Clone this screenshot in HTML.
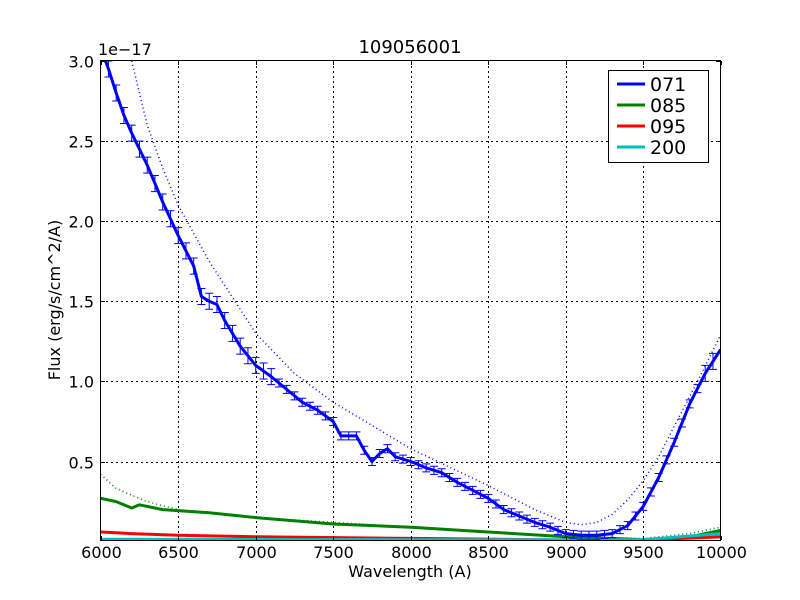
<!DOCTYPE html>
<html><head><meta charset="utf-8"><style>
body{margin:0;background:#fff;}
svg{display:block;font-family:"DejaVu Sans","Liberation Sans",sans-serif;}
</style></head><body>
<svg id="s" width="800" height="600" xmlns="http://www.w3.org/2000/svg">
<defs><clipPath id="cp"><rect x="101" y="61" width="619" height="479"/></clipPath></defs>
<rect width="800" height="600" fill="#fff"/>
<g id="grid" stroke="#000" stroke-width="1" stroke-dasharray="2,3"></g>
<g id="data" fill="none" clip-path="url(#cp)"></g>
<rect x="100.5" y="60.5" width="620" height="480" fill="none" stroke="#000" stroke-width="1"/>
<g id="ticks" stroke="#000"></g>
<g id="labels" font-size="16" fill="#000"></g>
<text x="410" y="53" font-size="18" text-anchor="middle">109056001</text>
<text x="98" y="55" font-size="16">1e−17</text>
<text x="410" y="577" font-size="16" text-anchor="middle">Wavelength (A)</text>
<text x="60" y="300" font-size="16" text-anchor="middle" transform="rotate(-90 60 300)">Flux (erg/s/cm^2/A)</text>
<g>
<rect x="608.5" y="70.5" width="100" height="92" fill="#fff" stroke="#000"/>
<line x1="617" y1="84" x2="645" y2="84" stroke="#0000ff" stroke-width="3"/>
<line x1="617" y1="105" x2="645" y2="105" stroke="#008000" stroke-width="3"/>
<line x1="617" y1="126" x2="645" y2="126" stroke="#ff0000" stroke-width="3"/>
<line x1="617" y1="147" x2="645" y2="147" stroke="#00bfbf" stroke-width="3"/>
<text x="650" y="91" font-size="19">071</text>
<text x="650" y="112" font-size="19">085</text>
<text x="650" y="133" font-size="19">095</text>
<text x="650" y="154" font-size="19">200</text>
</g>
</svg>
<script>
var NS="http://www.w3.org/2000/svg";
function X(w){return 100.7+(w-6000)*0.155;}
function Y(v){return 541.6-v*160.2;}
function el(p,t,a){var e=document.createElementNS(NS,t);for(var k in a)e.setAttribute(k,a[k]);document.getElementById(p).appendChild(e);return e;}
for(var w=6500;w<10000;w+=500){var x=Math.round(X(w))+0.5;el('grid','line',{x1:x,y1:61,x2:x,y2:540});}
[0.5,1,1.5,2,2.5].forEach(function(v){var y=Math.round(Y(v))+0.5;el('grid','line',{x1:101,y1:y,x2:720,y2:y});});
for(var w=6000;w<=10000;w+=500){var x=Math.round(X(w))+0.5;el('ticks','line',{x1:x,y1:540,x2:x,y2:536});el('ticks','line',{x1:x,y1:61,x2:x,y2:65});
 var t=el('labels','text',{x:x,y:558,'text-anchor':'middle'});t.textContent=w;}
[0.5,1,1.5,2,2.5,3].forEach(function(v){var y=Math.round(Y(v))+0.5;el('ticks','line',{x1:101,y1:y,x2:105,y2:y});el('ticks','line',{x1:720,y1:y,x2:716,y2:y});
 var t=el('labels','text',{x:94,y:y+6,'text-anchor':'end'});t.textContent=v.toFixed(1);});
function interp(pts,w){for(var i=0;i<pts.length-1;i++){if(w>=pts[i][0]&&w<=pts[i+1][0]){var f=(w-pts[i][0])/(pts[i+1][0]-pts[i][0]);return pts[i][1]+f*(pts[i+1][1]-pts[i][1]);}}return pts[pts.length-1][1];}
function path(pts,c,wd,dash){var d=pts.map(function(p,i){return (i?'L':'M')+X(p[0]).toFixed(1)+','+Y(p[1]).toFixed(1);}).join('');
 var a={d:d,stroke:c,'stroke-width':wd,'stroke-linejoin':'round'};if(dash)a['stroke-dasharray']=dash;el('data','path',a);}
var blue=[[6000,3.08],[6050,2.95],[6100,2.8],[6150,2.66],[6200,2.55],[6300,2.35],[6400,2.12],[6500,1.91],[6600,1.72],[6650,1.53],[6700,1.5],[6750,1.48],[6800,1.38],[6900,1.22],[7000,1.1],[7100,1.03],[7200,0.95],[7300,0.87],[7400,0.82],[7500,0.75],[7550,0.66],[7650,0.66],[7700,0.57],[7750,0.5],[7800,0.55],[7850,0.58],[7900,0.53],[8000,0.5],[8100,0.46],[8200,0.43],[8300,0.37],[8400,0.32],[8500,0.27],[8600,0.2],[8700,0.16],[8800,0.12],[8900,0.09],[9000,0.05],[9100,0.04],[9200,0.04],[9300,0.05],[9400,0.1],[9500,0.22],[9600,0.4],[9700,0.62],[9800,0.86],[9900,1.05],[10000,1.2]];
var bdot=[[6200,3.0],[6300,2.6],[6400,2.33],[6500,2.1],[6700,1.75],[7000,1.3],[7250,1.05],[7500,0.87],[8000,0.58],[8500,0.35],[8800,0.2],[9000,0.12],[9100,0.105],[9200,0.12],[9300,0.17],[9400,0.26],[9500,0.38],[9600,0.53],[9700,0.72],[9850,1.0],[10000,1.29]];
var green=[[6000,0.27],[6100,0.25],[6200,0.21],[6250,0.23],[6400,0.2],[6700,0.18],[7000,0.15],[7500,0.11],[8000,0.09],[8500,0.06],[9000,0.03],[9500,0.012],[9800,0.03],[10000,0.07]];
var gdot=[[6000,0.42],[6100,0.33],[6300,0.25],[6500,0.2],[7000,0.15],[8000,0.09],[9000,0.03],[9500,0.02],[9800,0.05],[10000,0.09]];
var red=[[6000,0.06],[6200,0.05],[6500,0.04],[7000,0.03],[8000,0.02],[9000,0.01],[9500,0.01],[10000,0.03]];
var cyan=[[6000,0.015],[8000,0.012],[9500,0.012],[10000,0.05]];
path(gdot,'#008000',1.5,'1,3');
path(green,'#008000',3);
path(red,'#ff0000',3);
path(cyan,'#00bfbf',3);
path(bdot,'#0000ff',1.5,'1,3');
path(blue,'#0000ff',3);
for(var w=6050;w<10000;w+=50){var v=interp(blue,w);var e=v>1?0.05:0.025;var x=X(w),y1=Y(v+e),y2=Y(v-e);
 el('data','path',{d:'M'+x+','+y1+'L'+x+','+y2+'M'+(x-4)+','+y1+'L'+(x+4)+','+y1+'M'+(x-4)+','+y2+'L'+(x+4)+','+y2,stroke:'#0000ff','stroke-width':1});}
</script>
</body></html>
